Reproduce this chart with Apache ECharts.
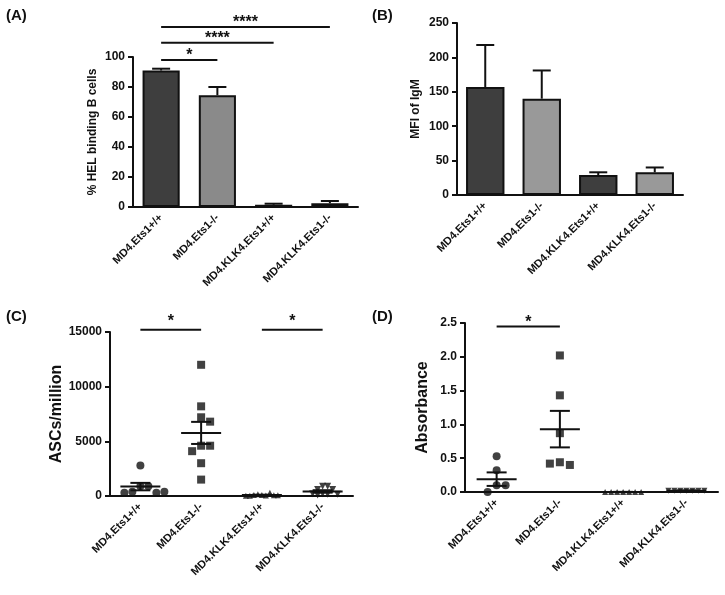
<!DOCTYPE html>
<html><head><meta charset="utf-8">
<script src="https://cdn.jsdelivr.net/npm/echarts@6/dist/echarts.min.js"></script>
<style>html,body{margin:0;padding:0;background:#fff}#c{width:725px;height:595px}</style>
</head><body><div id="c"></div>
<script>
// ---------------- DATA ----------------
const categories = ['MD4.Ets1+/+', 'MD4.Ets1-/-', 'MD4.KLK4.Ets1+/+', 'MD4.KLK4.Ets1-/-'];

// Panel A: % HEL binding B cells (mean and top of error bar)
const helBindingMean = [91, 74.5, 1.5, 2.5];
const helBindingErrTop = [92.2, 80, 2.2, 4];
const sigA = [[0, 1, '*'], [0, 2, '****'], [0, 3, '****']];

// Panel B: MFI of IgM
const mfiIgmMean = [157, 140, 29, 33];
const mfiIgmErrTop = [218, 181, 33, 40];

// Panel C: ASCs/million
const ascEts1WT = [2800, 900, 900, 400, 300, 300, 400];
const ascEts1KO = [12000, 8200, 7200, 6800, 4600, 4600, 4100, 3000, 1500];
const ascKLK4WT = [100, 50, 150, 300, 100, 60, 30, 80, 20];
const ascKLK4KO = [900, 900, 600, 600, 200, 150, 200, 100, 150];
const ascMean = [860, 5770, 90, 420];
const ascSem = [340, 1010, 30, 110];
const sigC = [[0, 1, '*'], [2, 3, '*']];

// Panel D: Absorbance
const absEts1WT = [0.53, 0.32, 0.10, 0.10, 0.0];
const absEts1KO = [2.02, 1.43, 0.87, 0.44, 0.40, 0.42];
const absKLK4WT = [0, 0, 0, 0, 0, 0, 0];
const absKLK4KO = [0.02, 0.02, 0.02, 0.02, 0.02, 0.02, 0.02];
const absMean = [0.19, 0.93, 0.0, 0.02];
const absSem = [0.10, 0.27, 0.002, 0.002];
const sigD = [[0, 1, '*']];

// ---------------- LAYOUT ----------------
const FONT = "'Liberation Sans', Arial, sans-serif";
const INK = '#111';
const grids = [
  {left: 133, top: 57, width: 225, height: 150},
  {left: 457, top: 23, width: 226, height: 172},
  {left: 110, top: 332, width: 243, height: 164},
  {left: 465, top: 323, width: 253, height: 169}
];
const sigLevelsA = [98, 109.5, 120];
const sigLevelsC = [15200, 15200];
const sigLevelsD = [2.45];
const darkFill = '#3e3e3e', lightFill = '#8a8a8a', lightFillB = '#999999';

function xAxisFor(i) {
  return {
    type: 'category', gridIndex: i, data: categories, boundaryGap: true,
    axisLine: {lineStyle: {color: INK, width: 2}},
    axisTick: {alignWithLabel: true, length: 5, lineStyle: {color: INK, width: 2}},
    axisLabel: {rotate: 45, margin: 9, fontSize: 11, fontWeight: 'bold', color: INK, fontFamily: FONT, interval: 0},
    splitLine: {show: false}
  };
}
function yAxisFor(i, max, interval, name, nameSize, nameGap, fmt) {
  return {
    type: 'value', gridIndex: i, min: 0, max: max, interval: interval,
    name: name, nameLocation: 'middle', nameGap: nameGap,
    nameTextStyle: {fontSize: nameSize, fontWeight: 'bold', color: INK, fontFamily: FONT},
    axisLine: {show: true, lineStyle: {color: INK, width: 2}},
    axisTick: {show: true, length: 5, lineStyle: {color: INK, width: 2}},
    axisLabel: {margin: 8, fontSize: 12, fontWeight: 'bold', color: INK, fontFamily: FONT, formatter: fmt},
    splitLine: {show: false}
  };
}

function errRender(params, api) {
  const i = api.value(0);
  const a = api.coord([i, api.value(1)]);
  const b = api.coord([i, api.value(2)]);
  const st = {stroke: INK, lineWidth: 2};
  return {type: 'group', children: [
    {type: 'line', shape: {x1: a[0], y1: a[1], x2: b[0], y2: b[1]}, style: st},
    {type: 'line', shape: {x1: b[0] - 9, y1: b[1], x2: b[0] + 9, y2: b[1]}, style: st}
  ]};
}
function meanSemRender(params, api) {
  const i = api.value(0), m = api.value(1), s = api.value(2);
  const c = api.coord([i, m]), t = api.coord([i, m + s]), b = api.coord([i, m - s]);
  const st = {stroke: INK, lineWidth: 2};
  return {type: 'group', children: [
    {type: 'line', shape: {x1: c[0] - 20, y1: c[1], x2: c[0] + 20, y2: c[1]}, style: st},
    {type: 'line', shape: {x1: c[0], y1: t[1], x2: c[0], y2: b[1]}, style: st},
    {type: 'line', shape: {x1: c[0] - 10, y1: t[1], x2: c[0] + 10, y2: t[1]}, style: st},
    {type: 'line', shape: {x1: c[0] - 10, y1: b[1], x2: c[0] + 10, y2: b[1]}, style: st}
  ]};
}
function sigRenderFor(sig, lift) {
  return function (params, api) {
    const from = api.value(0), lvl = api.value(1), to = api.value(2);
    const a = api.coord([from, lvl]), b = api.coord([to, lvl]);
    return {type: 'group', children: [
      {type: 'line', shape: {x1: a[0], y1: a[1], x2: b[0], y2: b[1]}, style: {stroke: INK, lineWidth: 2}},
      {type: 'text', x: (a[0] + b[0]) / 2, y: a[1] - lift,
        style: {text: sig[params.dataIndex][2], fill: INK, fontSize: 16, fontWeight: 'bold', fontFamily: FONT, align: 'center', verticalAlign: 'middle'}}
    ]};
  };
}
function sigSeries(idx, sig, levels, lift) {
  return {type: 'custom', xAxisIndex: idx, yAxisIndex: idx, clip: false, z: 5,
    renderItem: sigRenderFor(sig, lift), encode: {x: 0, y: 1},
    data: sig.map((s, k) => [s[0], levels[k], s[1]])};
}
// simple beeswarm: horizontal pixel offsets so symbols do not pile up
function swarm(values, pxPerUnit, dist, step) {
  const placed = [];
  return values.map(v => {
    const y = v * pxPerUnit;
    for (let k = 0; ; k++) {
      const off = k === 0 ? 0 : (k % 2 ? 1 : -1) * Math.ceil(k / 2) * step;
      if (placed.every(p => Math.hypot(p[0] - off, p[1] - y) >= dist)) { placed.push([off, y]); return off; }
    }
  });
}
function scatterSeries(idx, cat, values, symbol, size, pxPerUnit, dist, step, rotate) {
  const offs = swarm(values, pxPerUnit, dist, step);
  return {type: 'scatter', xAxisIndex: idx, yAxisIndex: idx, symbol: symbol, symbolSize: size,
    symbolRotate: rotate || 0, itemStyle: {color: INK}, z: 3,
    data: values.map((v, k) => ({value: [cat, v], symbolOffset: [offs[k], 0]}))};
}

const pxC = grids[2].height / 15000;
const pxD = grids[3].height / 2.5;

const option = {
  animation: false,
  backgroundColor: '#fff',
  textStyle: {fontFamily: FONT},
  grid: grids,
  xAxis: [xAxisFor(0), xAxisFor(1), xAxisFor(2), xAxisFor(3)],
  yAxis: [
    yAxisFor(0, 100, 20, '% HEL binding B cells', 12, 34),
    yAxisFor(1, 250, 50, 'MFI of IgM', 12, 35),
    yAxisFor(2, 15000, 5000, 'ASCs/million', 16, 36, v => String(v)),
    yAxisFor(3, 2.5, 0.5, 'Absorbance', 16, 34, v => v.toFixed(1))
  ],
  graphic: [
    {type: 'text', left: 6, top: 8, style: {text: '(A)', fontSize: 15, fontWeight: 'bold', fill: INK, fontFamily: FONT}},
    {type: 'text', left: 372, top: 8, style: {text: '(B)', fontSize: 15, fontWeight: 'bold', fill: INK, fontFamily: FONT}},
    {type: 'text', left: 6, top: 309, style: {text: '(C)', fontSize: 15, fontWeight: 'bold', fill: INK, fontFamily: FONT}},
    {type: 'text', left: 372, top: 309, style: {text: '(D)', fontSize: 15, fontWeight: 'bold', fill: INK, fontFamily: FONT}}
  ],
  series: [
    {type: 'bar', xAxisIndex: 0, yAxisIndex: 0, barWidth: '66%',
      itemStyle: {borderColor: INK, borderWidth: 2},
      data: helBindingMean.map((v, k) => ({value: v, itemStyle: {color: k % 2 ? lightFill : darkFill}}))},
    {type: 'custom', xAxisIndex: 0, yAxisIndex: 0, z: 4, renderItem: errRender, encode: {x: 0, y: 1},
      data: helBindingMean.map((v, k) => [k, v, helBindingErrTop[k]])},
    sigSeries(0, sigA, sigLevelsA, 4),

    {type: 'bar', xAxisIndex: 1, yAxisIndex: 1, barWidth: '68%',
      itemStyle: {borderColor: INK, borderWidth: 2},
      data: mfiIgmMean.map((v, k) => ({value: v, itemStyle: {color: k % 2 ? lightFillB : darkFill}}))},
    {type: 'custom', xAxisIndex: 1, yAxisIndex: 1, z: 4, renderItem: errRender, encode: {x: 0, y: 1},
      data: mfiIgmMean.map((v, k) => [k, v, mfiIgmErrTop[k]])},

    scatterSeries(2, categories[0], ascEts1WT, 'circle', 8, pxC, 7, 8),
    scatterSeries(2, categories[1], ascEts1KO, 'rect', 8, pxC, 7, 9),
    scatterSeries(2, categories[2], ascKLK4WT, 'triangle', 6, pxC, 4, 4),
    scatterSeries(2, categories[3], ascKLK4KO, 'triangle', 7, pxC, 5, 5, 180),
    {type: 'custom', xAxisIndex: 2, yAxisIndex: 2, z: 4, renderItem: meanSemRender, encode: {x: 0, y: 1},
      data: ascMean.map((m, k) => [k, m, ascSem[k]])},
    sigSeries(2, sigC, sigLevelsC, 8),

    scatterSeries(3, categories[0], absEts1WT, 'circle', 8, pxD, 7, 9),
    scatterSeries(3, categories[1], absEts1KO, 'rect', 8, pxD, 7, 10),
    scatterSeries(3, categories[2], absKLK4WT, 'triangle', 6, pxD, 6, 6),
    scatterSeries(3, categories[3], absKLK4KO, 'triangle', 6, pxD, 6, 6, 180),
    {type: 'custom', xAxisIndex: 3, yAxisIndex: 3, z: 4, renderItem: meanSemRender, encode: {x: 0, y: 1},
      data: absMean.map((m, k) => [k, m, absSem[k]])},
    sigSeries(3, sigD, sigLevelsD, 4)
  ]
};
const chart = echarts.init(document.getElementById('c'), null, {renderer: 'canvas'});
chart.setOption(option);
</script></body></html>
